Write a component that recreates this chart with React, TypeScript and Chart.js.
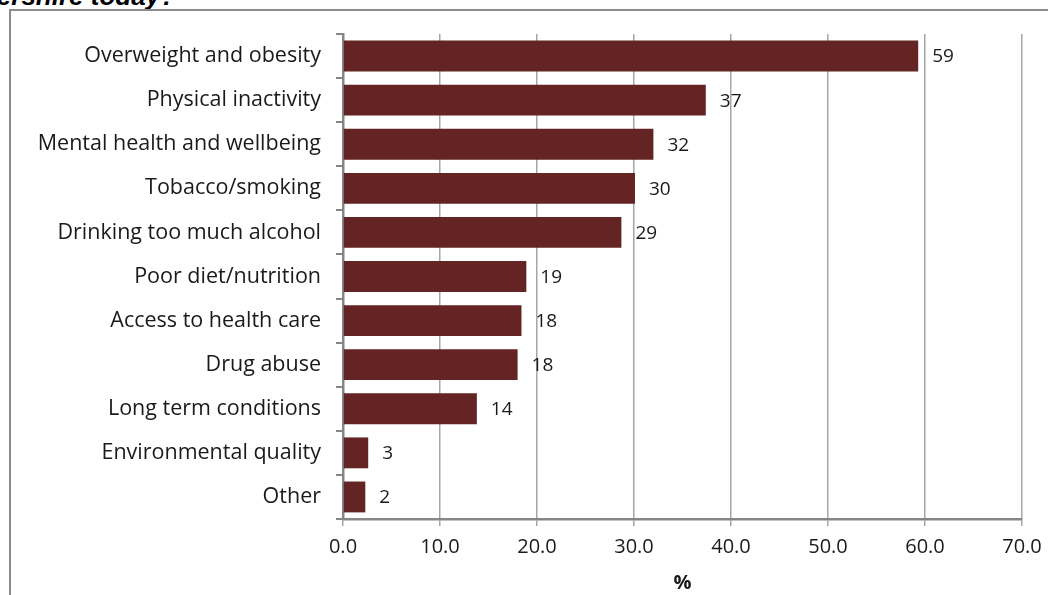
import React, { useEffect, useRef } from "react";
import { Chart, registerables } from "chart.js";

Chart.register(...registerables);

const categories = [
  "Overweight and obesity",
  "Physical inactivity",
  "Mental health and wellbeing",
  "Tobacco/smoking",
  "Drinking too much alcohol",
  "Poor diet/nutrition",
  "Access to health care",
  "Drug abuse",
  "Long term conditions",
  "Environmental quality",
  "Other",
];
const values = [59.3, 37.4, 32.0, 30.1, 28.7, 18.9, 18.4, 18.0, 13.8, 2.6, 2.3];
const valueLabels = ["59", "37", "32", "30", "29", "19", "18", "18", "14", "3", "2"];
const xMin = 0;
const xMax = 70;
const xStep = 10;
const axisTitle = "%";
const titleText = "ershire today?";

const FONT = "'Open Sans', 'Noto Sans', sans-serif";

const valueLabelPlugin = {
  id: "valueLabels",
  afterDatasetsDraw(chart: any) {
    const ctx = chart.ctx;
    const meta = chart.getDatasetMeta(0);
    ctx.save();
    ctx.font = `19px ${FONT}`;
    ctx.fillStyle = "#1a1a1a";
    ctx.textAlign = "left";
    ctx.textBaseline = "middle";
    meta.data.forEach((el: any, i: number) => {
      ctx.fillText(valueLabels[i], el.x + 14, el.y + 1);
    });
    ctx.restore();
  },
};

export default function App() {
  const canvasRef = useRef<HTMLCanvasElement | null>(null);

  useEffect(() => {
    if (!canvasRef.current) return;
    const chart = new Chart(canvasRef.current, {
      type: "bar",
      data: {
        labels: categories,
        datasets: [
          {
            data: values,
            backgroundColor: "#632423",
            borderWidth: 0,
            barPercentage: 0.7,
            categoryPercentage: 1.0,
          },
        ],
      },
      plugins: [valueLabelPlugin],
      options: {
        indexAxis: "y",
        responsive: false,
        animation: false,
        layout: { padding: { top: 34, right: 26, left: 0, bottom: 0 } },
        plugins: {
          legend: { display: false },
          tooltip: { enabled: false },
          title: { display: false },
        },
        scales: {
          x: {
            min: xMin,
            max: xMax,
            ticks: {
              stepSize: xStep,
              callback: (v: any) => Number(v).toFixed(1),
              font: { family: FONT, size: 20 },
              color: "#1a1a1a",
              padding: 9,
              maxRotation: 0,
            },
            grid: { color: "#a6a6a6", lineWidth: 1.5, tickLength: 7, drawTicks: true },
            border: { color: "#868686", width: 2.5 },
            title: {
              display: true,
              text: axisTitle,
              font: { family: FONT, size: 20, weight: "bold" },
              color: "#1a1a1a",
              padding: { top: 0, bottom: 0 },
            },
            afterFit: (s: any) => {
              s.height = 76;
              s.paddingRight = 0;
              s.paddingLeft = 0;
            },
          },
          y: {
            ticks: {
              font: { family: FONT, size: 21.5 },
              color: "#1a1a1a",
              padding: 15,
            },
            grid: {
              drawOnChartArea: false,
              drawTicks: true,
              tickLength: 7,
              color: "#868686",
              lineWidth: 2,
            },
            border: { color: "#868686", width: 2.5 },
            afterFit: (s: any) => {
              s.width = 343;
            },
          },
        },
      } as any,
    });
    return () => chart.destroy();
  }, []);

  return (
    <div
      style={{
        position: "absolute",
        left: 0,
        top: 0,
        width: 1048,
        height: 595,
        overflow: "hidden",
        background: "#fff",
      }}
    >
      <div
        style={{
          position: "absolute",
          right: 1048 - 176,
          top: -19,
          font: "italic bold 26px 'Liberation Sans', Arial, sans-serif",
          whiteSpace: "nowrap",
          color: "#000",
        }}
      >
        {titleText}
      </div>
      <div
        style={{
          position: "absolute",
          left: 9,
          top: 9,
          width: 1200,
          height: 800,
          border: "2px solid #8c8c8c",
          boxSizing: "border-box",
        }}
      />
      <canvas
        ref={canvasRef}
        width={1048}
        height={595}
        style={{ position: "absolute", left: 0, top: 0, width: 1048, height: 595 }}
      />
    </div>
  );
}
